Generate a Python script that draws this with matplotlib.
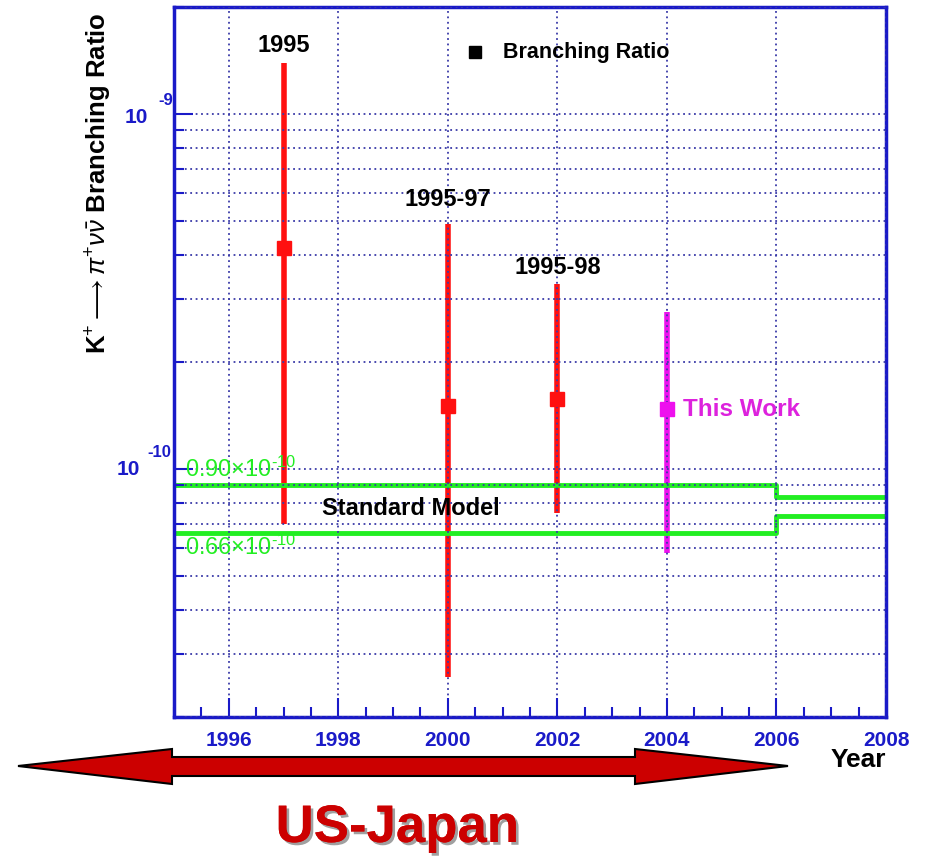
import matplotlib
matplotlib.use("Agg")
import matplotlib.pyplot as plt
import matplotlib.patheffects as pe
from matplotlib.patches import Polygon
from matplotlib.ticker import FixedLocator, NullFormatter
import numpy as np

plt.rcParams['font.family'] = ['Liberation Sans', 'DejaVu Sans']
plt.rcParams['mathtext.fontset'] = 'custom'
plt.rcParams['mathtext.rm'] = 'Liberation Sans'
plt.rcParams['mathtext.it'] = 'Liberation Sans:italic'
plt.rcParams['mathtext.bf'] = 'Liberation Sans:bold'

# ---- data ----
labels = ["1995", "1995-97", "1995-98", "This Work"]
years = [1997, 2000, 2002, 2004]
br = [4.2e-10, 1.5e-10, 1.57e-10, 1.47e-10]
err_up = [9.7e-10, 3.4e-10, 1.75e-10, 1.30e-10]
err_dn = [3.5e-10, 1.24e-10, 0.82e-10, 0.89e-10]
colors = ["#ff1010", "#ff1010", "#ff1010", "#ee10ee"]

sm_years = [1995, 2006, 2008]
sm_upper = [0.90e-10, 0.835e-10, 0.835e-10]
sm_lower = [0.66e-10, 0.735e-10, 0.735e-10]

xticks = [1996, 1998, 2000, 2002, 2004, 2006, 2008]
yticks = [1e-10, 1e-9]
ytick_exps = ["-10", "-9"]

W, H = 928, 857
fig = plt.figure(figsize=(W / 100, H / 100), dpi=100)
ax = fig.add_axes([174 / W, 1 - 717 / H, 712 / W, 710 / H])

blue = "#1a1ac8"
gridc = "#3a3aa8"

ax.set_yscale("log")
ax.set_xlim(1995, 2008)
ax.set_ylim(2.0e-11, 2.0e-9)

# grid above lines, below markers
ax.set_axisbelow(False)

for x, y, up, dn, c in zip(years, br, err_up, err_dn, colors):
    ax.plot([x, x], [y - dn, y + up], color=c, lw=4.0, solid_capstyle='butt', zorder=2)
    ax.plot([x], [y], marker='s', ms=9.5, color=c, mec=c, zorder=4, ls='none')

ax.step(sm_years, sm_upper, where='post', color="#22ee22", lw=3.5, zorder=2)
ax.step(sm_years, sm_lower, where='post', color="#22ee22", lw=3.5, zorder=2)

# ticks & grid
ax.xaxis.set_major_locator(FixedLocator(xticks))
ax.xaxis.set_minor_locator(FixedLocator(np.arange(1995, 2008.01, 0.5)))
ax.set_xticklabels([str(t) for t in xticks])
ax.yaxis.set_major_locator(FixedLocator(yticks))
minor_y = [m * 10.0 ** e for e in (-11, -10) for m in range(2, 10)] + [2e-9]
ax.yaxis.set_minor_locator(FixedLocator(minor_y))
ax.yaxis.set_minor_formatter(NullFormatter())
ax.yaxis.set_major_formatter(NullFormatter())

ax.tick_params(axis='both', which='major', direction='in', length=14, width=1.5, color=blue,
               labelcolor=blue, labelsize=15)
ax.tick_params(axis='both', which='minor', direction='in', length=7, width=1.5, color=blue)
ax.tick_params(axis='x', pad=10)
for lab in ax.get_xticklabels():
    lab.set_fontweight('bold')

# y tick labels: "10" with raised exponent, ROOT style
ytr = ax.get_yaxis_transform()
base_off = {"-9": (-26, -4), "-10": (-34, -1)}
exp_off = {"-9": (-16, 13), "-10": (-27, 16)}
for yv, ex in zip(yticks, ytick_exps):
    ax.annotate("10", xy=(0, yv), xycoords=ytr, xytext=base_off[ex], textcoords='offset pixels',
                ha='right', va='center', fontsize=15, fontweight='bold', color=blue,
                annotation_clip=False)
    ax.annotate(ex, xy=(0, yv), xycoords=ytr, xytext=exp_off[ex], textcoords='offset pixels',
                ha='left', va='center', fontsize=12, fontweight='bold', color=blue,
                annotation_clip=False)

ax.grid(True, which='major', axis='x', ls=(0, (1, 2)), color=gridc, lw=1.3)
ax.grid(True, which='both', axis='y', ls=(0, (1, 2)), color=gridc, lw=1.3)

for s in ax.spines.values():
    s.set_color(blue)
    s.set_linewidth(2.5)

# y label
ax.set_ylabel(r"K$^{+}$$\longrightarrow$$\pi^{+}\nu\bar{\nu}$ Branching Ratio",
              fontsize=18.5, fontweight='bold', color='black')
ax.yaxis.set_label_coords(-0.084, 0.752)

# x label
fig.text(858 / W, 1 - 760 / H, "Year", fontsize=19, fontweight='bold', ha='center', va='center')

# annotations
ax.text(years[0], 1.56e-9, labels[0], fontsize=17, fontweight='bold', ha='center', va='center')
ax.text(years[1], 5.75e-10, labels[1], fontsize=17, fontweight='bold', ha='center', va='center')
ax.text(years[2], 3.68e-10, labels[2], fontsize=17, fontweight='bold', ha='center', va='center')
ax.text(years[3] + 0.3, br[3], labels[3], fontsize=17.5, fontweight='bold', ha='left', va='center',
        color="#dd22dd")
ax.text(1997.7, 0.773e-10, "Standard Model", fontsize=17, fontweight='bold', ha='left', va='center')
ax.text(1995.2, 1.0e-10, r"0.90$\times$10$^{\text{-}10}$", fontsize=17, ha='left', va='center',
        color="#22ee22")
ax.text(1995.2, 0.60e-10, r"0.66$\times$10$^{\text{-}10}$", fontsize=17, ha='left', va='center',
        color="#22ee22")

# legend
ax.plot([2000.5], [1.49e-9], marker='s', ms=8, color='black', ls='none', zorder=5)
ax.text(2001.0, 1.49e-9, "Branching Ratio", fontsize=15.5, fontweight='bold', ha='left', va='center')

# double arrow
pts = [(18, 766), (172, 749), (172, 757), (635, 757), (635, 749), (788, 766),
       (635, 784), (635, 776), (172, 776), (172, 784)]
poly = Polygon([(x / W, 1 - y / H) for x, y in pts], closed=True, transform=fig.transFigure,
               facecolor="#cc0000", edgecolor='black', lw=1.5)
fig.patches.append(poly)

fig.text(397 / W, 1 - 828 / H, "US-Japan", fontsize=38, fontweight='bold', color="#cc0000",
         ha='center', va='center', family=['Liberation Sans Narrow', 'Liberation Sans'],
         path_effects=[pe.withSimplePatchShadow(offset=(2, -2), shadow_rgbFace='#888888', alpha=0.8),
                       pe.Normal()])

fig.savefig("out.png", dpi=100, facecolor='white')
